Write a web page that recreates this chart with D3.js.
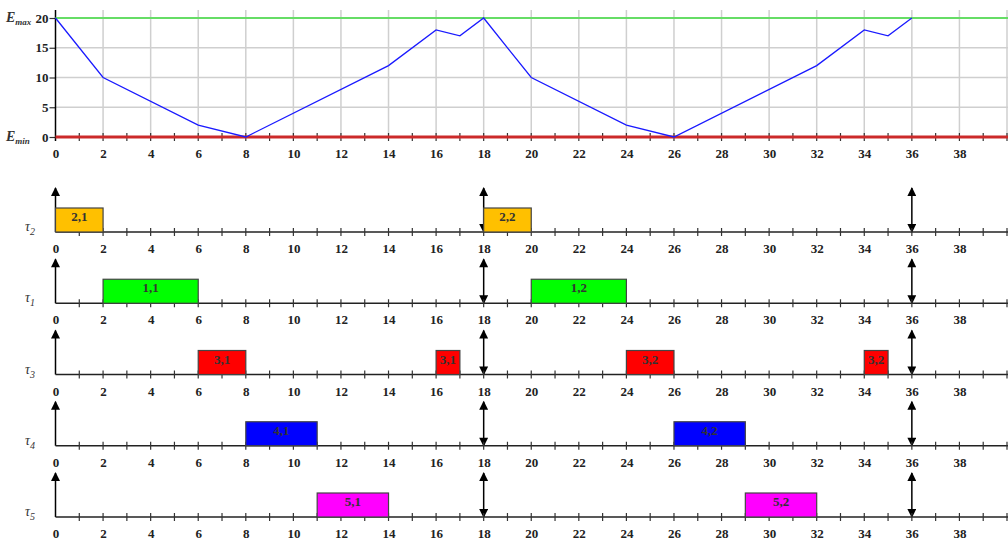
<!DOCTYPE html>
<html>
<head>
<meta charset="utf-8">
<script src="https://cdn.jsdelivr.net/npm/d3@7"></script>
<style>
  html, body { margin: 0; padding: 0; background: #fff; }
  svg { display: block; }
  svg text { font-family: "Liberation Serif", "Times New Roman", serif !important; }
</style>
</head>
<body>
<svg id="chart" width="1008" height="540"></svg>
<script>
// Energy level of the storage over time
const energyTimes  = [0, 2, 6, 8, 14, 16, 17, 18, 20, 24, 26, 32, 34, 35, 36];
const energyValues = [20, 10, 2, 0, 12, 18, 17, 20, 10, 2, 0, 12, 18, 17, 20];
const eMax = 20;
const eMin = 0;
const energyTicks = [0, 5, 10, 15, 20];

// Time axis
const timeTicks = [0, 2, 4, 6, 8, 10, 12, 14, 16, 18, 20, 22, 24, 26, 28, 30, 32, 34, 36, 38];
const timeDomain = [0, 40];
const periodMarks = [18, 36];

// Task rows, top to bottom
const taskIds    = ["2", "1", "3", "4", "5"];
const taskColors = ["#ffc000", "#00ff00", "#ff0000", "#0000ff", "#ff00ff"];
// Execution slots: task, start, end, label
const jobTask  = ["2", "2", "1", "1", "3", "3", "3", "3", "4", "4", "5", "5"];
const jobStart = [0, 18, 2, 20, 6, 16, 24, 34, 8, 26, 11, 29];
const jobEnd   = [2, 20, 6, 24, 8, 17, 26, 35, 11, 29, 14, 32];
const jobLabel = ["2,1", "2,2", "1,1", "1,2", "3,1", "3,1", "3,2", "3,2", "4,1", "4,2", "5,1", "5,2"];

const svg = d3.select("#chart");
const W = 1008;
const SERIF = "'Liberation Serif', 'Times New Roman', serif";

const x = d3.scaleLinear().domain(timeDomain).range([55.5, 1007]);
const yE = d3.scaleLinear().domain([0, 20]).range([137, 18]);
const rowBase = d3.scalePoint().domain(taskIds).range([232, 517]);
const boxH = 24;
const arrowH = 44;

svg.append("defs").call(defs => {
  defs.append("marker")
    .attr("id", "head")
    .attr("viewBox", "0 0 10 10")
    .attr("refX", 9).attr("refY", 5)
    .attr("markerWidth", 10).attr("markerHeight", 9)
    .attr("markerUnits", "userSpaceOnUse")
    .attr("orient", "auto-start-reverse")
    .append("path").attr("d", "M0,0 L10,5 L0,10 Z").attr("fill", "#000");
});

function styleTickText(sel) {
  sel.style("font-family", SERIF)
    .style("font-weight", "bold").style("font-size", "13px").attr("fill", "#222");
}

// ---------- Energy panel ----------
const energyPanel = svg.append("g");
const gridTop = 10;

// vertical grid
energyPanel.append("g").selectAll("line")
  .data(d3.range(2, 41, 2))
  .join("line")
  .attr("x1", d => x(d)).attr("x2", d => x(d))
  .attr("y1", gridTop).attr("y2", yE(0))
  .attr("stroke", "#cfcfcf").attr("stroke-width", 1.5);

// horizontal grid
energyPanel.append("g").selectAll("line")
  .data(energyTicks.filter(d => d > eMin && d < eMax))
  .join("line")
  .attr("x1", x(0)).attr("x2", W)
  .attr("y1", d => yE(d)).attr("y2", d => yE(d))
  .attr("stroke", "#cfcfcf").attr("stroke-width", 1.5);

// y axis
const yAxis = d3.axisLeft(yE).tickValues(energyTicks).tickSize(6).tickPadding(1);
const yg = energyPanel.append("g").attr("transform", `translate(${x(0)},0)`).call(yAxis);
yg.select(".domain").remove();
yg.selectAll(".tick line").attr("stroke", "#333").attr("stroke-width", 1.2);
yg.selectAll(".tick text").call(styleTickText);
energyPanel.append("line")
  .attr("x1", x(0)).attr("x2", x(0))
  .attr("y1", gridTop).attr("y2", yE(0) + 4)
  .attr("stroke", "#000").attr("stroke-width", 1.5);

// Emax / Emin labels
function eLabel(sub, yv) {
  const t = energyPanel.append("text")
    .attr("x", 6).attr("y", yE(yv) + 4)
    .style("font-family", SERIF)
    .style("font-style", "italic").style("font-weight", "bold")
    .style("font-size", "14px").attr("fill", "#333");
  t.append("tspan").text("E");
  t.append("tspan").attr("dy", 3).style("font-size", "9px").text(sub);
}
eLabel("max", eMax);
eLabel("min", eMin);

// limit lines
energyPanel.append("line")
  .attr("x1", x(0)).attr("x2", W)
  .attr("y1", yE(eMax)).attr("y2", yE(eMax))
  .attr("stroke", "#66dd66").attr("stroke-width", 2);

// minor ticks along the time axis of the energy panel
energyPanel.append("g").selectAll("line")
  .data(d3.range(1, 41))
  .join("line")
  .attr("x1", d => x(d)).attr("x2", d => x(d))
  .attr("y1", yE(0) - 4).attr("y2", yE(0) + 4)
  .attr("stroke", "#333").attr("stroke-width", 1.2);

energyPanel.append("line")
  .attr("x1", x(0)).attr("x2", W)
  .attr("y1", yE(eMin)).attr("y2", yE(eMin))
  .attr("stroke", "#cc2a2a").attr("stroke-width", 3);

// energy curve
const line = d3.line().x(d => x(d[0])).y(d => yE(d[1]));
energyPanel.append("path")
  .datum(energyTimes.map((t, i) => [t, energyValues[i]]))
  .attr("d", line)
  .attr("fill", "none").attr("stroke", "#1a1aff").attr("stroke-width", 1.3);

// time labels
const xAxisTop = d3.axisBottom(x).tickValues(timeTicks).tickSize(0).tickPadding(12);
const xg0 = energyPanel.append("g").attr("transform", `translate(0,${yE(0)})`).call(xAxisTop);
xg0.select(".domain").remove();
xg0.selectAll(".tick text").call(styleTickText);

// ---------- Task rows ----------
taskIds.forEach((id, k) => {
  const base = rowBase(id);
  const g = svg.append("g");

  // vertical axis arrow at t = 0
  g.append("line")
    .attr("x1", x(0)).attr("x2", x(0))
    .attr("y1", base).attr("y2", base - arrowH)
    .attr("stroke", "#000").attr("stroke-width", 1.5)
    .attr("marker-end", "url(#head)");

  // period boundary arrows
  g.selectAll("line.period")
    .data(periodMarks)
    .join("line")
    .attr("class", "period")
    .attr("x1", d => x(d)).attr("x2", d => x(d))
    .attr("y1", base).attr("y2", base - arrowH)
    .attr("stroke", "#000").attr("stroke-width", 1.5)
    .attr("marker-start", "url(#head)")
    .attr("marker-end", "url(#head)");

  // time axis line
  g.append("line")
    .attr("x1", x(0)).attr("x2", W)
    .attr("y1", base).attr("y2", base)
    .attr("stroke", "#222").attr("stroke-width", 1.5);

  g.selectAll("line.minor")
    .data(d3.range(1, 41))
    .join("line")
    .attr("class", "minor")
    .attr("x1", d => x(d)).attr("x2", d => x(d))
    .attr("y1", base - 4).attr("y2", base + 4)
    .attr("stroke", "#333").attr("stroke-width", 1.2);

  // jobs of this task
  const jobs = d3.range(jobTask.length).filter(i => jobTask[i] === id);
  const jg = g.selectAll("g.job").data(jobs).join("g").attr("class", "job");
  jg.append("rect")
    .attr("x", i => x(jobStart[i]))
    .attr("y", base - boxH)
    .attr("width", i => x(jobEnd[i]) - x(jobStart[i]))
    .attr("height", boxH)
    .attr("fill", taskColors[k])
    .attr("stroke", "#444").attr("stroke-width", 1.2);
  jg.append("text")
    .attr("x", i => (x(jobStart[i]) + x(jobEnd[i])) / 2)
    .attr("y", base - boxH + 13)
    .attr("text-anchor", "middle")
    .style("font-family", SERIF)
    .style("font-weight", "bold").style("font-size", "13px").attr("fill", "#333")
    .text(i => jobLabel[i]);

  // time labels
  const xa = d3.axisBottom(x).tickValues(timeTicks).tickSize(0).tickPadding(12);
  const xg = g.append("g").attr("transform", `translate(0,${base})`).call(xa);
  xg.select(".domain").remove();
  xg.selectAll(".tick text").call(styleTickText);

  // row label
  const t = g.append("text")
    .attr("x", 25).attr("y", base - 1)
    .style("font-family", SERIF)
    .style("font-style", "italic").style("font-size", "14px").attr("fill", "#333");
  t.append("tspan").text("τ");
  t.append("tspan").attr("dy", 4).style("font-size", "10px").text(id);
});
</script>
</body>
</html>
